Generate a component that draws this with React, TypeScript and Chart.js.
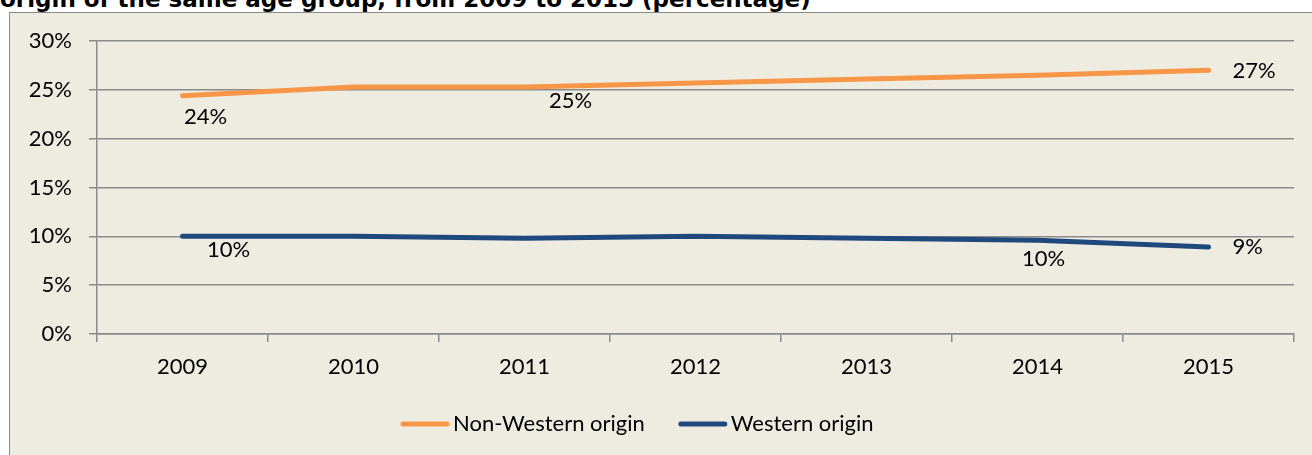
import React, { useEffect, useRef } from "react";
import { Chart, registerables } from "chart.js";

Chart.register(...registerables);

// ---- data ----
const years = ["2009", "2010", "2011", "2012", "2013", "2014", "2015"];
const nonWestern = [24.4, 25.3, 25.3, 25.7, 26.1, 26.5, 27.0];
const western = [10.0, 10.0, 9.8, 10.0, 9.8, 9.6, 8.9];
const seriesNames = ["Non-Western origin", "Western origin"];
const yMin = 0;
const yMax = 30;
const yStep = 5;
const titleText = "origin of the same age group, from 2009 to 2015 (percentage)";

// ---- style ----
const seriesColors = ["#F79646", "#1F497D"];
const FONT = "Lato, 'Open Sans', sans-serif";
const FONT_SIZE = 22;
const GRID = "#8a8a8a";
// which points carry a data label, and where the label sits relative to the point
const labelPlacement = [
  [
    { i: 0, dx: 23, dy: 21, align: "center" },
    { i: 2, dx: 46, dy: 14, align: "center" },
    { i: 6, dx: 24, dy: 1, align: "left" },
  ],
  [
    { i: 0, dx: 46, dy: 14, align: "center" },
    { i: 5, dx: 6, dy: 19, align: "center" },
    { i: 6, dx: 24, dy: 0, align: "left" },
  ],
];

const dataLabelPlugin = {
  id: "dataLabels",
  afterDatasetsDraw(chart: any) {
    const ctx = chart.ctx;
    ctx.save();
    ctx.font = `${FONT_SIZE}px ${FONT}`;
    ctx.fillStyle = "#000";
    ctx.textBaseline = "middle";
    chart.data.datasets.forEach((ds: any, di: number) => {
      const meta = chart.getDatasetMeta(di);
      labelPlacement[di].forEach((p: any) => {
        const el = meta.data[p.i];
        if (!el) return;
        const txt = Math.round(ds.data[p.i]) + "%";
        ctx.textAlign = p.align;
        ctx.fillText(txt, el.x + p.dx, el.y + p.dy);
      });
    });
    ctx.restore();
  },
};

const legendPlugin = {
  id: "customLegend",
  afterDraw(chart: any) {
    const ctx = chart.ctx;
    const area = chart.chartArea;
    ctx.save();
    ctx.font = `${FONT_SIZE}px ${FONT}`;
    ctx.textBaseline = "middle";
    ctx.textAlign = "left";
    let x = area.left + 304;
    const y = area.bottom + 90;
    chart.data.datasets.forEach((ds: any) => {
      ctx.strokeStyle = ds.borderColor;
      ctx.lineWidth = 5;
      ctx.lineCap = "round";
      ctx.beginPath();
      ctx.moveTo(x + 2, y);
      ctx.lineTo(x + 46, y);
      ctx.stroke();
      ctx.fillStyle = "#000";
      ctx.fillText(ds.label, x + 52, y);
      x += 52 + ctx.measureText(ds.label).width + 34;
    });
    ctx.restore();
  },
};

export default function App() {
  const ref = useRef<HTMLCanvasElement>(null);

  useEffect(() => {
    document.body.style.margin = "0";
    const canvas = ref.current;
    if (!canvas) return;
    const chart = new Chart(canvas, {
      type: "line",
      data: {
        labels: years,
        datasets: [
          {
            label: seriesNames[0],
            data: nonWestern,
            borderColor: seriesColors[0],
            backgroundColor: seriesColors[0],
            borderWidth: 5,
            borderCapStyle: "round",
            borderJoinStyle: "round",
            pointRadius: 0,
            tension: 0,
          },
          {
            label: seriesNames[1],
            data: western,
            borderColor: seriesColors[1],
            backgroundColor: seriesColors[1],
            borderWidth: 5,
            borderCapStyle: "round",
            borderJoinStyle: "round",
            pointRadius: 0,
            tension: 0,
          },
        ],
      },
      options: {
        animation: false,
        responsive: false,
        maintainAspectRatio: false,
        layout: { padding: { top: 41, right: 18, bottom: 0, left: 0 } },
        plugins: {
          legend: { display: false },
          tooltip: { enabled: false },
          title: { display: false },
        },
        scales: {
          x: {
            offset: true,
            grid: {
              offset: true,
              drawOnChartArea: false,
              drawTicks: true,
              tickLength: 8,
              color: GRID,
              lineWidth: 1.5,
            },
            border: { display: true, color: GRID, width: 1.5 },
            ticks: {
              color: "#000",
              font: { family: FONT, size: FONT_SIZE },
              padding: 12,
              maxRotation: 0,
            },
            afterFit(scale: any) {
              scale.height = 121;
            },
          },
          y: {
            min: yMin,
            max: yMax,
            grid: {
              color: GRID,
              lineWidth: 1.5,
              tickLength: 8,
              drawTicks: true,
            },
            border: { display: true, color: GRID, width: 1.5 },
            ticks: {
              stepSize: yStep,
              color: "#000",
              font: { family: FONT, size: FONT_SIZE },
              padding: 17,
              callback: (v: any) => v + "%",
            },
            afterFit(scale: any) {
              scale.width = 97;
            },
          },
        },
      } as any,
      plugins: [dataLabelPlugin, legendPlugin],
    });
    return () => chart.destroy();
  }, []);

  return (
    <div
      style={{
        position: "fixed",
        left: 0,
        top: 0,
        width: 1312,
        height: 455,
        overflow: "hidden",
        background: "#fff",
      }}
    >
      <div
        style={{
          position: "absolute",
          left: 0,
          top: -12,
          font: "bold 23px 'DejaVu Sans', Verdana, sans-serif",
          lineHeight: "23px",
          whiteSpace: "nowrap",
          color: "#000",
        }}
      >
        {titleText}
      </div>
      <div
        style={{
          position: "absolute",
          left: 9,
          top: 12,
          width: 1400,
          height: 500,
          border: "1.5px solid #8a8a8a",
          background: "#EEECE1",
        }}
      />
      <canvas
        ref={ref}
        width={1312}
        height={455}
        style={{ position: "absolute", left: 0, top: 0, width: 1312, height: 455 }}
      />
    </div>
  );
}
